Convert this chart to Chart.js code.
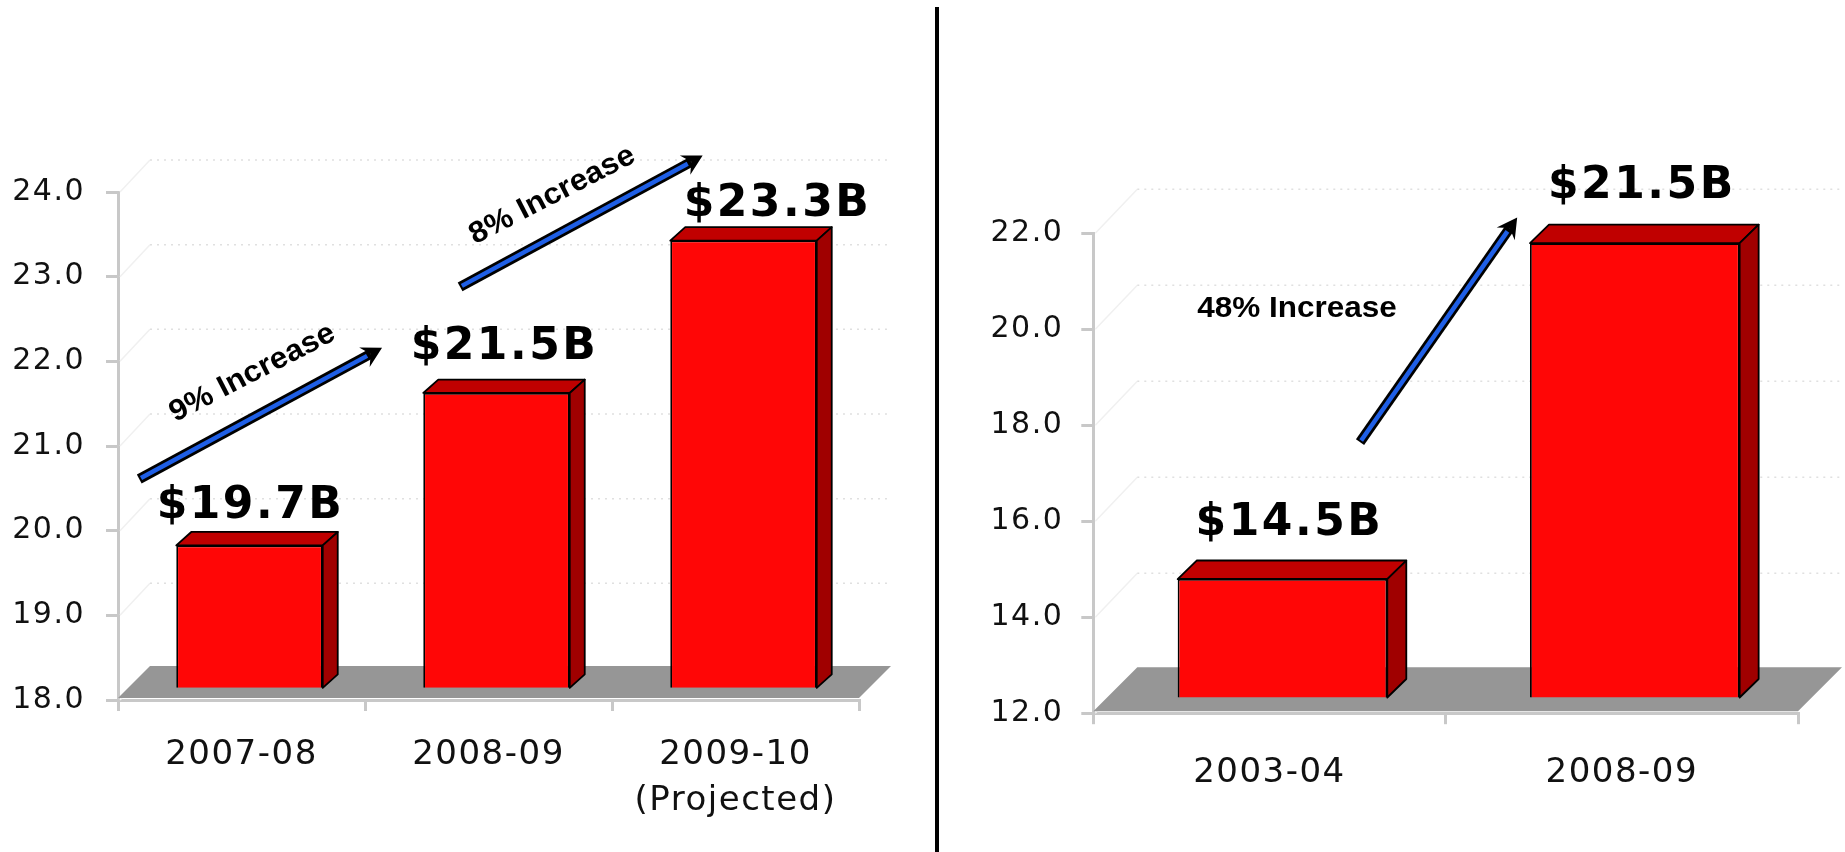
<!DOCTYPE html>
<html>
<head>
<meta charset="utf-8">
<script src="https://cdn.jsdelivr.net/npm/chart.js@4.4.1/dist/chart.umd.min.js"></script>
<style>
  html, body { margin: 0; padding: 0; background: #fff; overflow: hidden; }
  #wrap { position: relative; width: 1845px; height: 852px; }
  #left { position: absolute; left: 0; top: 0; }
  #right { position: absolute; left: 939px; top: 0; }
  #divider { position: absolute; left: 935px; top: 7px; width: 4px; height: 845px; background: #000; }
</style>
</head>
<body>
<div id="wrap">
  <canvas id="left" width="935" height="852"></canvas>
  <div id="divider"></div>
  <canvas id="right" width="906" height="852"></canvas>
</div>
<script>
// Left panel: three fiscal years, $ billions
const leftCategories = [['2007-08'], ['2008-09'], ['2009-10', '(Projected)']];
const leftValues = [19.7, 21.5, 23.3];
const leftGrowth = ['9% Increase', '8% Increase'];
const leftAxis = { min: 18, max: 24, step: 1 };

// Right panel: five-year comparison, $ billions
const rightCategories = ['2003-04', '2008-09'];
const rightValues = [14.5, 21.5];
const rightGrowth = ['48% Increase'];
const rightAxis = { min: 12, max: 22, step: 2 };

const RED_FRONT = '#ff0606';
const RED_TOP = '#c00000';
const RED_SIDE = '#a00000';
const FLOOR = '#969696';
const AXIS_GREY = '#c8c8c8';
const ARROW_BLUE = '#1f5fe6';

function poly(ctx, pts) {
  ctx.beginPath();
  ctx.moveTo(pts[0][0], pts[0][1]);
  for (let i = 1; i < pts.length; i++) ctx.lineTo(pts[i][0], pts[i][1]);
  ctx.closePath();
}

function drawArrow(ctx, x1, y1, x2, y2) {
  const ang = Math.atan2(y2 - y1, x2 - x1);
  const headLen = 20, headHalf = 11, notch = 7;
  const len = Math.hypot(x2 - x1, y2 - y1);
  ctx.save();
  ctx.translate(x1, y1);
  ctx.rotate(ang);
  // shaft: black casing with a blue core
  ctx.lineCap = 'butt';
  ctx.strokeStyle = '#000';
  ctx.lineWidth = 10;
  ctx.beginPath(); ctx.moveTo(0, 0); ctx.lineTo(len - headLen + notch, 0); ctx.stroke();
  ctx.strokeStyle = ARROW_BLUE;
  ctx.lineWidth = 4.5;
  ctx.beginPath(); ctx.moveTo(2, 0); ctx.lineTo(len - headLen + 3, 0); ctx.stroke();
  // barbed head
  ctx.fillStyle = '#000';
  poly(ctx, [[len, 0], [len - headLen, -headHalf], [len - headLen + notch, 0], [len - headLen, headHalf]]);
  ctx.fill();
  ctx.restore();
}

function growthText(ctx, text, x, y, angle) {
  ctx.save();
  ctx.translate(x, y);
  ctx.rotate(angle);
  ctx.scale(1.05, 1);
  ctx.font = 'bold 30px "Liberation Sans", Arial, sans-serif';
  ctx.letterSpacing = '0px';
  ctx.fillStyle = '#000';
  ctx.textAlign = 'center';
  ctx.textBaseline = 'middle';
  ctx.fillText(text, 0, 0);
  ctx.restore();
}

// Pseudo-3D decoration: back wall, floor, bar top/side faces, value labels, growth arrows
function makeDecor(cfg) {
  return {
    id: 'decor3d',
    beforeDraw(chart) {
      // slightly open tracking for the axis text
      chart.ctx.letterSpacing = '1.5px';
    },
    beforeDatasetsDraw(chart) {
      const { ctx, chartArea: a, scales: { y } } = chart;
      ctx.letterSpacing = '0px';
      const [fdx, fdy] = cfg.floor;
      ctx.save();
      y.ticks.forEach(t => {
        const py = y.getPixelForValue(t.value);
        ctx.setLineDash([]);
        ctx.strokeStyle = '#f0f0f0';
        ctx.lineWidth = 1.5;
        ctx.beginPath(); ctx.moveTo(a.left + 2, py); ctx.lineTo(a.left + fdx, py + fdy); ctx.stroke();
        ctx.setLineDash([2, 5]);
        ctx.strokeStyle = '#e0e0e0';
        ctx.beginPath(); ctx.moveTo(a.left + fdx, py + fdy); ctx.lineTo(a.right + fdx, py + fdy); ctx.stroke();
      });
      ctx.setLineDash([]);
      const base = y.getPixelForValue(y.min) - 2;
      ctx.fillStyle = FLOOR;
      poly(ctx, [[a.left, base], [a.right, base], [a.right + fdx, base + fdy], [a.left + fdx, base + fdy]]);
      ctx.fill();
      ctx.restore();
      // bars sit part-way back on the floor
      ctx.save();
      ctx.translate(cfg.front[0], cfg.front[1]);
    },
    afterDatasetsDraw(chart) {
      const { ctx } = chart;
      const [dx, dy] = cfg.depth;
      ctx.lineWidth = 1.8;
      ctx.lineJoin = 'round';
      ctx.strokeStyle = '#000';
      chart.getDatasetMeta(0).data.forEach(bar => {
        const l = bar.x - bar.width / 2, r = bar.x + bar.width / 2, t = bar.y, b = bar.base;
        ctx.fillStyle = RED_TOP;
        poly(ctx, [[l, t], [r, t], [r + dx, t + dy], [l + dx, t + dy]]);
        ctx.fill(); ctx.stroke();
        ctx.fillStyle = RED_SIDE;
        poly(ctx, [[r, t], [r + dx, t + dy], [r + dx, b + dy], [r, b]]);
        ctx.fill(); ctx.stroke();
      });
      ctx.restore();

      // value labels above each bar
      const values = chart.data.datasets[0].data;
      ctx.save();
      ctx.font = 'bold 44px "DejaVu Sans", Verdana, sans-serif';
      ctx.letterSpacing = '2.5px';
      ctx.fillStyle = '#000';
      ctx.textAlign = 'center';
      ctx.textBaseline = 'alphabetic';
      chart.getDatasetMeta(0).data.forEach((bar, i) => {
        const [sx, gap] = cfg.labelShift[i];
        ctx.fillText('$' + values[i].toFixed(1) + 'B', bar.x + cfg.front[0] + sx + 1, bar.y + cfg.front[1] - gap);
      });
      ctx.restore();
    },
    afterDraw(chart) {
      const { ctx, scales: { x, y } } = chart;
      cfg.arrows.forEach((ar, i) => {
        const x1 = x.getPixelForValue(ar.from[0]), y1 = y.getPixelForValue(ar.from[1]);
        const x2 = x.getPixelForValue(ar.to[0]), y2 = y.getPixelForValue(ar.to[1]);
        drawArrow(ctx, x1, y1, x2, y2);
        const ang = ar.tilt ? Math.atan2(y2 - y1, x2 - x1) + 0.02 : 0;
        growthText(ctx, cfg.growth[i], x.getPixelForValue(ar.textAt[0]), y.getPixelForValue(ar.textAt[1]), ang);
      });
    }
  };
}

function makeChart(id, categories, values, axis, opts) {
  return new Chart(document.getElementById(id), {
    type: 'bar',
    data: {
      labels: categories,
      datasets: [{
        data: values,
        base: axis.min,
        backgroundColor: RED_FRONT,
        borderColor: '#000',
        borderWidth: 1.8,
        barPercentage: opts.barPct,
        categoryPercentage: 1,
        clip: false
      }]
    },
    options: {
      responsive: false,
      animation: false,
      devicePixelRatio: 1,
      layout: { padding: { top: opts.top, right: opts.right, left: 0, bottom: 0 } },
      plugins: { legend: { display: false }, tooltip: { enabled: false } },
      scales: {
        x: {
          afterFit(s) { s.height = opts.xHeight; },
          grid: { drawOnChartArea: false, drawTicks: true, tickLength: 11, color: AXIS_GREY, lineWidth: 3 },
          border: { color: AXIS_GREY, width: 3 },
          ticks: {
            color: '#111',
            padding: opts.xPad,
            maxRotation: 0,
            autoSkip: false,
            font: { family: '"DejaVu Sans", Verdana, sans-serif', size: 34, lineHeight: 1.33 }
          }
        },
        y: {
          min: axis.min,
          max: axis.max,
          afterFit(s) { s.width = opts.yWidth; },
          grid: { drawOnChartArea: false, drawTicks: true, tickLength: 12, color: AXIS_GREY, lineWidth: 3 },
          border: { color: AXIS_GREY, width: 3 },
          ticks: {
            stepSize: axis.step,
            color: '#111',
            padding: opts.yPad,
            font: { family: '"DejaVu Sans", Verdana, sans-serif', size: 30 },
            callback: v => Number(v).toFixed(1)
          }
        }
      }
    },
    plugins: [makeDecor(opts.decor)]
  });
}

makeChart('left', leftCategories, leftValues, leftAxis, {
  top: 192, right: 76, yWidth: 118, xHeight: 152, xPad: 22, yPad: 21, barPct: 0.593,
  decor: {
    floor: [32, -32],
    front: [8, -10.7],
    depth: [15, -13.4],
    labelShift: [[0, 27], [7, 33.5], [33, 25]],
    growth: leftGrowth,
    arrows: [
      { from: [-0.414, 20.61], to: [0.569, 22.16], textAt: [0.044, 21.86], tilt: true },
      { from: [0.885, 22.88], to: [1.867, 24.43], textAt: [1.258, 23.96], tilt: true }
    ]
  }
});

makeChart('right', rightCategories, rightValues, rightAxis, {
  top: 233.3, right: 47, yWidth: 154.3, xHeight: 138.8, xPad: 26, yPad: 18, barPct: 0.595,
  decor: {
    floor: [44, -44],
    front: [13, -14.2],
    depth: [19, -18.5],
    labelShift: [[6, 44.5], [6, 45]],
    growth: rightGrowth,
    arrows: [
      { from: [0.257, 17.65], to: [0.703, 22.33], textAt: [0.078, 20.42], tilt: false }
    ]
  }
});
</script>
</body>
</html>
